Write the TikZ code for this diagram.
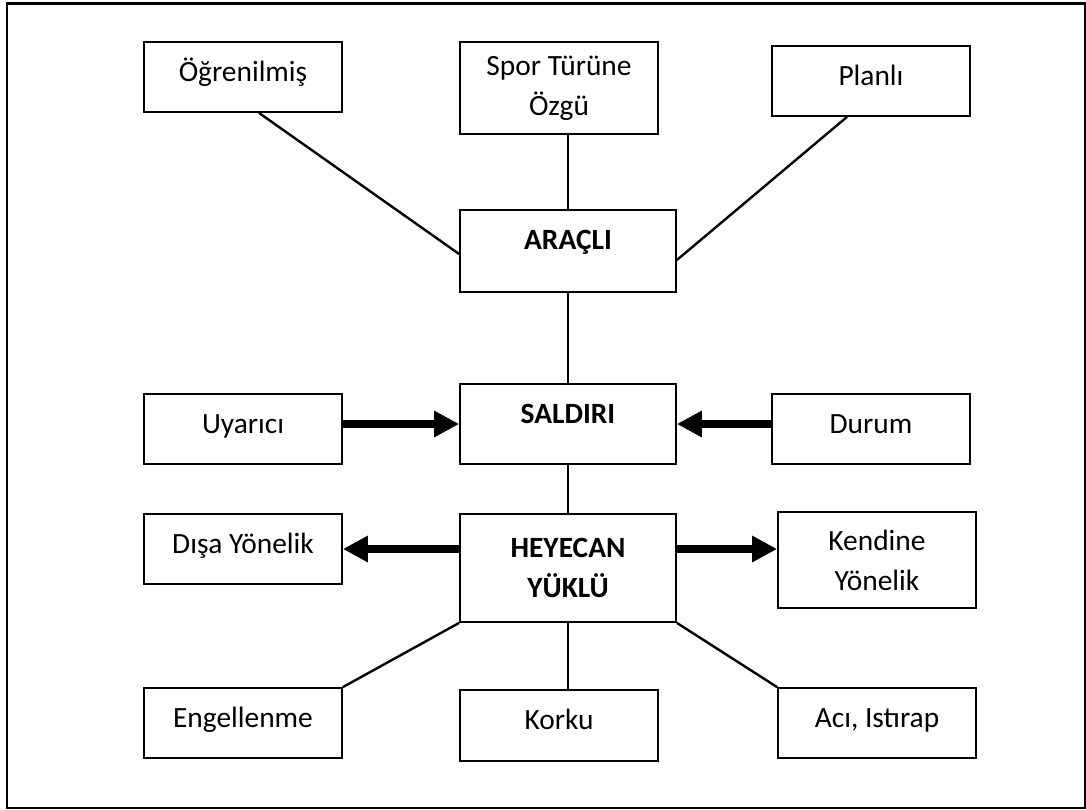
\documentclass[tikz,border=0pt]{standalone}
\usepackage{fontspec}
\setmainfont{Carlito}
\usetikzlibrary{arrows.meta}

\begin{document}
\begin{tikzpicture}[x=0.5pt,y=-0.5pt,
  kutu/.style={draw,line width=0.9pt,minimum width=99pt,inner sep=0pt,align=center,font=\fontsize{14.7pt}{20pt}\selectfont},
  kalin/.style={font=\fontsize{14.7pt}{20pt}\selectfont\bfseries},
  genis/.style={minimum width=108pt},
  tek/.style={text height=19.5pt,text depth=#1},
  tek/.default=15.5pt,
  cizgi/.style={line width=1.2pt},
  ok/.style={line width=4pt,-{Triangle[length=12.5pt,width=12.5pt]}}]
\useasboundingbox (0,0) rectangle (1086,809);
\draw[line width=1.2pt] (7,3.5) rectangle (1085,808);

\node[kutu,tek] (ogren) at (243,77) {Öğrenilmiş};
\node[kutu,minimum height=46pt] (spor) at (559,88) {Spor Türüne\\Özgü};
\node[kutu,tek] (planli) at (871,81) {Planlı};
\node[kutu,genis,kalin,tek=21.5pt] (aracli) at (568,251) {ARAÇLI};

\node[kutu,tek] (uyarici) at (243,429) {Uyarıcı};
\node[kutu,genis,kalin,tek=20.5pt] (saldiri) at (568,424) {SALDIRI};
\node[kutu,tek] (durum) at (871,429) {Durum};

\node[kutu,tek] (disa) at (243,549) {Dışa Yönelik};
\node[kutu,genis,kalin,minimum height=54pt] (heyecan) at (568,568) {HEYECAN\\YÜKLÜ};
\node[kutu,minimum height=48pt] (kendine) at (877,560) {Kendine\\Yönelik};

\node[kutu,tek] (engel) at (243,723) {Engellenme};
\node[kutu,tek=16pt] (korku) at (559,725.5) {Korku};
\node[kutu,tek] (aci) at (877,723) {Acı, Istırap};

\draw[cizgi] ([xshift=8pt]ogren.south) -- ([yshift=-1.5pt]aracli.west);
\draw[cizgi] (aracli.north) -- (aracli.north |- spor.south);
\draw[cizgi] ([xshift=-12pt]planli.south) -- ([yshift=-4.5pt]aracli.east);
\draw[cizgi] (aracli.south) -- (saldiri.north);
\draw[cizgi] (saldiri.south) -- (heyecan.north);
\draw[cizgi] (heyecan.south west) -- (engel.north east);
\draw[cizgi] (heyecan.south) -- (heyecan.south |- korku.north);
\draw[cizgi] (heyecan.south east) -- (aci.north west);

\draw[ok] (uyarici.east |- saldiri.west) -- (saldiri.west);
\draw[ok] (durum.west |- saldiri.east) -- (saldiri.east);
\draw[ok] (heyecan.west |- disa.east) -- (disa.east);
\draw[ok] (heyecan.east |- disa.east) -- (kendine.west |- disa.east);
\end{tikzpicture}
\end{document}
